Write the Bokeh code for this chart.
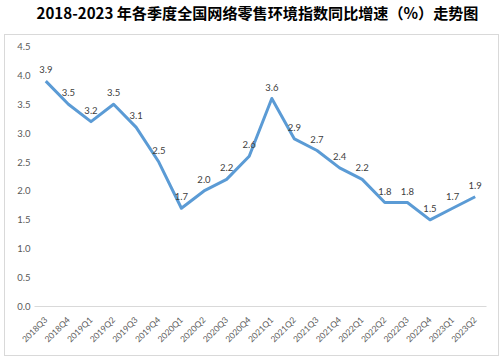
from math import pi
from bokeh.plotting import figure
from bokeh.models import ColumnDataSource, FactorRange, Range1d, Div, NumeralTickFormatter
from bokeh.layouts import column
from bokeh.core.properties import value
from bokeh.embed import file_html
from bokeh.resources import INLINE

title_text = "2018-2023 年各季度全国网络零售环境指数同比增速（%）走势图"
quarters = ["2018Q3", "2018Q4", "2019Q1", "2019Q2", "2019Q3", "2019Q4",
            "2020Q1", "2020Q2", "2020Q3", "2020Q4", "2021Q1", "2021Q2",
            "2021Q3", "2021Q4", "2022Q1", "2022Q2", "2022Q3", "2022Q4",
            "2023Q1", "2023Q2"]
growth = [3.9, 3.5, 3.2, 3.5, 3.1, 2.5, 1.7, 2.0, 2.2, 2.6, 3.6, 2.9,
          2.7, 2.4, 2.2, 1.8, 1.8, 1.5, 1.7, 1.9]
y_ticks = [0.0, 0.5, 1.0, 1.5, 2.0, 2.5, 3.0, 3.5, 4.0, 4.5]

src = ColumnDataSource(dict(q=quarters, v=growth, lab=[f"{g:.1f}" for g in growth]))

div = Div(text=title_text, width=497, height=28,
          styles={"font-family": "'Noto Sans CJK SC'", "font-weight": "bold",
                  "font-size": "15.1px", "text-align": "center", "color": "#000000",
                  "line-height": "22px"})

p = figure(width=495, height=322, x_range=FactorRange(*quarters),
           y_range=Range1d(0, 4.5), output_backend="svg", toolbar_location=None,
           min_border_left=29, min_border_right=14, min_border_top=11, min_border_bottom=51,
           background_fill_color="white", border_fill_color="white")
p.styles = {"border": "1px solid #d9d9d9"}
p.outline_line_color = None
p.xgrid.grid_line_color = None
p.ygrid.grid_line_color = None

p.line("q", "v", source=src, line_color="#5B9BD5", line_width=3, line_join="round")
p.text("q", "v", text="lab", source=src, y_offset=-8, text_align="center",
       text_baseline="bottom", text_font=value("Lato"), text_font_size="9.5px",
       text_color="#404040")

p.yaxis.ticker = y_ticks
p.yaxis.formatter = NumeralTickFormatter(format="0.0")
p.yaxis.axis_line_color = None
p.yaxis.major_tick_line_color = None
p.yaxis.minor_tick_line_color = None
p.yaxis.major_label_text_font = "Lato"
p.yaxis.major_label_text_font_size = "9.5px"
p.yaxis.major_label_text_color = "#595959"
p.yaxis.major_label_standoff = -2

p.xaxis.axis_line_color = "#d9d9d9"
p.xaxis.major_tick_line_color = None
p.xaxis.minor_tick_line_color = None
p.xaxis.major_label_orientation = pi / 4
p.xaxis.major_label_text_font = "Lato"
p.xaxis.major_label_text_font_size = "8.5px"
p.xaxis.major_label_text_color = "#595959"
p.xaxis.major_label_standoff = 6

layout = column(div, p, spacing=0, styles={"margin-left": "4px", "margin-top": "-4px"})

open("out.html", "w").write(file_html(layout, INLINE))
